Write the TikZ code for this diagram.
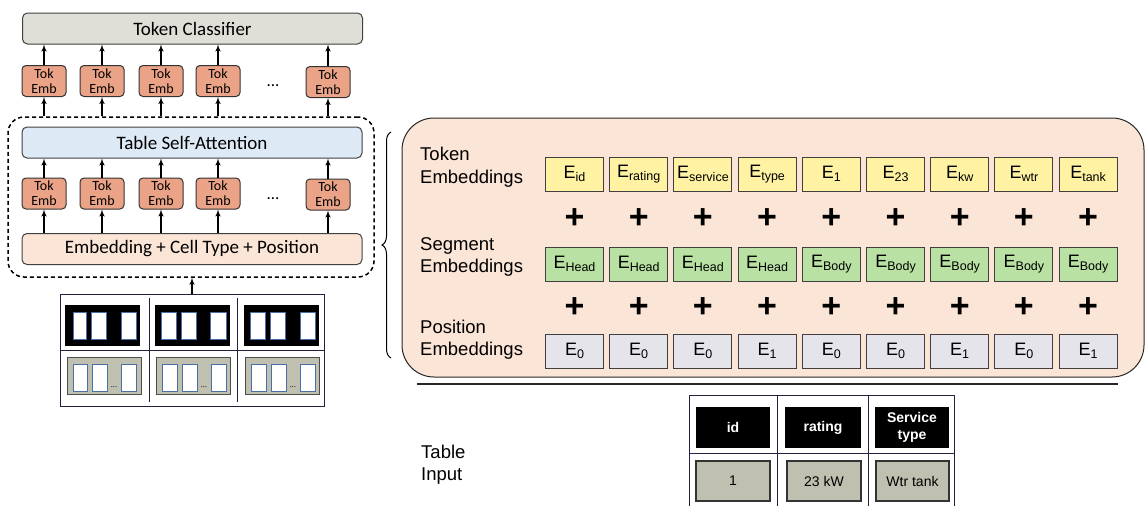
\documentclass[tikz,border=0pt]{standalone}
\usepackage{fontspec}
\setmainfont{Carlito}
\newfontfamily\arialfont{Liberation Sans}
\usepackage{tikz}
\usetikzlibrary{arrows}
\usetikzlibrary{decorations.pathreplacing}
\definecolor{clsgray}{HTML}{DFDED7}
\definecolor{tokorange}{HTML}{EAA386}
\definecolor{attnblue}{HTML}{DDEAF6}
\definecolor{peach}{HTML}{FBE5D6}
\definecolor{tokyellow}{HTML}{FFF3A3}
\definecolor{seggreen}{HTML}{B9E1A3}
\definecolor{posgray}{HTML}{E5E4EA}
\definecolor{cellgray}{HTML}{C0C0B0}
\definecolor{cellblue}{HTML}{4A6EA9}
\definecolor{navy}{HTML}{22223F}
\newcommand{\esub}[1]{E\raisebox{-0.2em}{\fontsize{12.5}{12.5}\selectfont #1}}
\tikzset{
	layerbox/.style={draw=black!75, line width=1pt, rounded corners=5pt, minimum width=340pt, minimum height=31pt, inner sep=0pt, font=\fontsize{19}{19}\selectfont},
	tokemb/.style={draw=black!80, line width=1pt, fill=tokorange, rounded corners=4pt, minimum width=44pt, minimum height=31pt, inner sep=0pt, align=center, font=\fontsize{14}{15}\selectfont},
	ebox/.style={draw=black!75, line width=1pt, minimum width=58pt, minimum height=34pt, inner sep=0pt, font=\arialfont\fontsize{18}{18}\selectfont},
	tokrow/.style={ebox, fill=tokyellow},
	segrow/.style={ebox, fill=seggreen},
	posrow/.style={ebox, fill=posgray},
	plussign/.style={inner sep=0pt, font=\arialfont\bfseries\fontsize{34}{34}\selectfont},
	rowlabel/.style={anchor=west, align=left, inner sep=0pt, font=\arialfont\fontsize{18.5}{22.5}\selectfont},
	headcell/.style={fill=black, text=white, minimum height=41pt, inner sep=0pt, align=center, font=\arialfont\bfseries\fontsize{14}{17}\selectfont},
	bodycell/.style={draw=black!80, line width=1.5pt, fill=cellgray, minimum height=40pt, inner sep=0pt, font=\arialfont\fontsize{14}{14}\selectfont},
	up/.style={->, line width=1.4pt}
}
\begin{document}
\begin{tikzpicture}[x=1pt,y=-1pt,>=latex']
	\useasboundingbox (0,0) rectangle (1146,506);
	% encoder side
	\node (cls) [layerbox, fill=clsgray] at (192.5,28.5) {Token Classifier};
	\node (top1) [tokemb] at (44,81) {Tok\\Emb};
	\node (top2) [tokemb] at (102,81) {Tok\\Emb};
	\node (top3) [tokemb] at (161,81) {Tok\\Emb};
	\node (top4) [tokemb] at (218,81) {Tok\\Emb};
	\node (top5) [tokemb] at (328,82) {Tok\\Emb};
	\node (dotsa) at (273,86) {\fontsize{17}{17}\selectfont ...};
	\node (enc) [draw, dashed, line width=1.5pt, dash pattern=on 4pt off 3pt, rounded corners=16pt, minimum width=366pt, minimum height=160pt] at (191,197) {};
	\node (attn) [layerbox, fill=attnblue] at (192,142.5) {Table Self-Attention};
	\node (bot1) [tokemb] at (44,193.5) {Tok\\Emb};
	\node (bot2) [tokemb] at (102,193.5) {Tok\\Emb};
	\node (bot3) [tokemb] at (161,193.5) {Tok\\Emb};
	\node (bot4) [tokemb] at (218,193.5) {Tok\\Emb};
	\node (bot5) [tokemb] at (328,194.5) {Tok\\Emb};
	\node (dotsb) at (273,199) {\fontsize{17}{17}\selectfont ...};
	\node (cell) [layerbox, fill=peach] at (192,249) {Embedding + Cell Type + Position};
	\foreach \n in {1,...,5} {
		\draw[up] (top\n.north) -- (top\n.north |- cls.south);
		\draw[up] (top\n.south |- enc.north) -- (top\n.south);
		\draw[up] (bot\n.north) -- (bot\n.north |- attn.south);
		\draw[up] (bot\n.south |- cell.north) -- (bot\n.south);
	}
	% small table
	\node (tbl) [draw=navy, line width=1pt, minimum width=264pt, minimum height=112pt] at (192,350) {};
	\draw[navy, line width=1pt] (tbl.west |- 0,350) -- (tbl.east |- 0,350);
	\draw[navy, line width=1pt] (149,298) -- (149,402);
	\draw[navy, line width=1pt] (237,298) -- (237,402);
	\draw[up] (tbl.north) -- (tbl.north |- enc.south);
	\fill[black] (65,305) rectangle (140,346);
	\fill[black] (155,305) rectangle (230,346);
	\fill[black] (244,305) rectangle (319,346);
	\draw[cellblue, fill=white, line width=1pt] (73,312) rectangle (86,339) (91,312) rectangle (106,339) (121,312) rectangle (136,339);
	\draw[cellblue, fill=white, line width=1pt] (161,312) rectangle (176,339) (181,312) rectangle (196,339) (210,312) rectangle (226,339);
	\draw[cellblue, fill=white, line width=1pt] (250,312) rectangle (265,339) (270,312) rectangle (285,339) (300,312) rectangle (315,339);
	\draw[black!70, fill=cellgray, line width=1pt] (67,357) rectangle (141,394);
	\draw[black!70, fill=cellgray, line width=1pt] (156,357) rectangle (230,394);
	\draw[black!70, fill=cellgray, line width=1pt] (245,357) rectangle (319,394);
	\draw[cellblue, fill=white, line width=1pt] (73,364) rectangle (87,391) (92,364) rectangle (107,391) (121,364) rectangle (136,391);
	\draw[cellblue, fill=white, line width=1pt] (162,364) rectangle (177,391) (182,364) rectangle (197,391) (211,364) rectangle (226,391);
	\draw[cellblue, fill=white, line width=1pt] (251,364) rectangle (266,391) (271,364) rectangle (286,391) (300,364) rectangle (315,391);
	\node (dc1) [inner sep=0pt] at (114,387) {\fontsize{8}{8}\selectfont ...};
	\node (dc2) [inner sep=0pt] at (204,387) {\fontsize{8}{8}\selectfont ...};
	\node (dc3) [inner sep=0pt] at (293,387) {\fontsize{8}{8}\selectfont ...};
	% embedding side
	\draw[line width=1pt, decorate, decoration={brace, amplitude=9pt}] (391,358) -- (391,132);
	\node (emb) [draw=black!85, line width=1pt, fill=peach, rounded corners=32pt, minimum width=742pt, minimum height=259pt] at (773,247.5) {};
	\node (tokl) [rowlabel] at (420,167) {Token\\Embeddings};
	\node (segl) [rowlabel] at (420,257) {Segment\\Embeddings};
	\node (posl) [rowlabel] at (420,339.5) {Position\\Embeddings};
	\node (tok1) [tokrow] at (574.5,174) {\esub{id}};
	\node (tok2) [tokrow] at (638.7,174) {\esub{rating}};
	\node (tok3) [tokrow] at (702.9,174) {\esub{service}};
	\node (tok4) [tokrow] at (767.1,174) {\esub{type}};
	\node (tok5) [tokrow] at (831.3,174) {\esub{1}};
	\node (tok6) [tokrow] at (895.5,174) {\esub{23}};
	\node (tok7) [tokrow] at (959.7,174) {\esub{kw}};
	\node (tok8) [tokrow] at (1023.9,174) {\esub{wtr}};
	\node (tok9) [tokrow] at (1088.1,174) {\esub{tank}};
	\node (seg1) [segrow] at (574.5,264) {\esub{Head}};
	\node (seg2) [segrow] at (638.7,264) {\esub{Head}};
	\node (seg3) [segrow] at (702.9,264) {\esub{Head}};
	\node (seg4) [segrow] at (767.1,264) {\esub{Head}};
	\node (seg5) [segrow] at (831.3,264) {\esub{Body}};
	\node (seg6) [segrow] at (895.5,264) {\esub{Body}};
	\node (seg7) [segrow] at (959.7,264) {\esub{Body}};
	\node (seg8) [segrow] at (1023.9,264) {\esub{Body}};
	\node (seg9) [segrow] at (1088.1,264) {\esub{Body}};
	\node (pos1) [posrow] at (574.5,351) {\esub{0}};
	\node (pos2) [posrow] at (638.7,351) {\esub{0}};
	\node (pos3) [posrow] at (702.9,351) {\esub{0}};
	\node (pos4) [posrow] at (767.1,351) {\esub{1}};
	\node (pos5) [posrow] at (831.3,351) {\esub{0}};
	\node (pos6) [posrow] at (895.5,351) {\esub{0}};
	\node (pos7) [posrow] at (959.7,351) {\esub{1}};
	\node (pos8) [posrow] at (1023.9,351) {\esub{0}};
	\node (pos9) [posrow] at (1088.1,351) {\esub{1}};
	\foreach \n in {1,...,9} {
		\node (pa\n) [plussign] at (tok\n |- 0,219) {+};
		\node (pb\n) [plussign] at (tok\n |- 0,308) {+};
	}
	\draw[line width=2pt, black!85] (417,384) -- (1118,384);
	% table input
	\node (tinl) [rowlabel] at (421,464.5) {Table\\Input};
	\draw[navy, line width=1pt] (689,506) -- (689,395) -- (954,395) -- (954,506);
	\draw[navy, line width=1pt] (777,395) -- (777,506);
	\draw[navy, line width=1pt] (868,395) -- (868,506);
	\draw[navy, line width=1pt] (689,453) -- (954,453);
	\node (hid) [headcell, minimum width=74pt] at (733,427.5) {id};
	\node (hrat) [headcell, minimum width=76pt] at (823,427.5) {rating};
	\node (hser) [headcell, minimum width=74pt] at (912,427.5) {Service\\type};
	\node (vid) [bodycell, minimum width=74pt] at (733,481) {1};
	\node (vrat) [bodycell, minimum width=74pt] at (824,481) {23 kW};
	\node (vser) [bodycell, minimum width=73pt] at (912.5,481) {Wtr tank};
\end{tikzpicture}
\end{document}
